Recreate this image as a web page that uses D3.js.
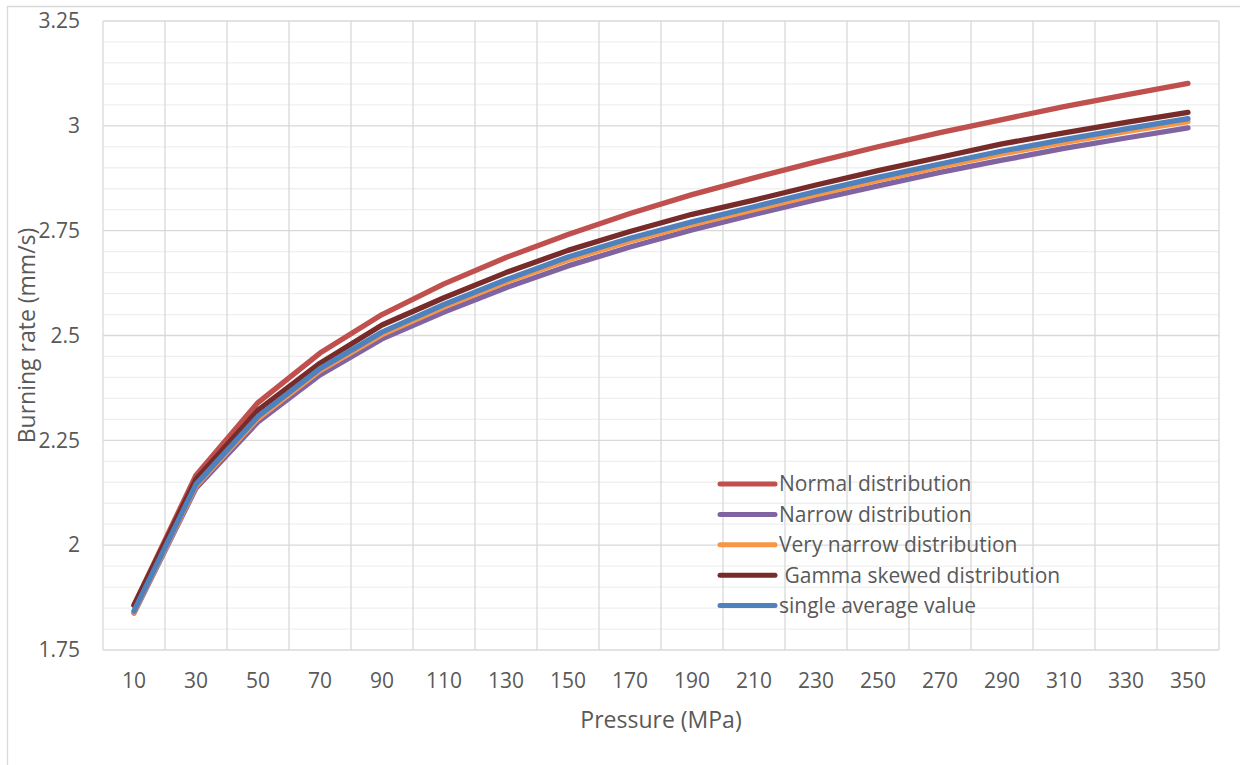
<!DOCTYPE html>
<html>
<head>
<meta charset="utf-8">
<script src="https://cdn.jsdelivr.net/npm/d3@7"></script>
<style>
  html, body { margin: 0; padding: 0; background: #fff; }
  svg { display: block; }
  text { font-family: "Open Sans", "DejaVu Sans", sans-serif; fill: #595959; }
</style>
</head>
<body>
<svg id="chart" width="1240" height="765"></svg>
<script>
// Pressure categories (MPa)
const pressures = [10, 30, 50, 70, 90, 110, 130, 150, 170, 190, 210, 230, 250, 270, 290, 310, 330, 350];

// Burning rate (mm/s) for each particle-size distribution
const normalDist     = [1.857, 2.167, 2.340, 2.458, 2.550, 2.623, 2.686, 2.741, 2.791, 2.836, 2.876, 2.914, 2.950, 2.984, 3.015, 3.046, 3.074, 3.101];
const narrowDist     = [1.838, 2.136, 2.294, 2.406, 2.492, 2.556, 2.614, 2.666, 2.711, 2.752, 2.789, 2.824, 2.857, 2.889, 2.918, 2.946, 2.971, 2.995];
const veryNarrowDist = [1.840, 2.141, 2.302, 2.416, 2.502, 2.568, 2.627, 2.680, 2.725, 2.764, 2.800, 2.836, 2.870, 2.902, 2.933, 2.960, 2.986, 3.010];
const gammaDist      = [1.857, 2.157, 2.322, 2.434, 2.525, 2.590, 2.650, 2.703, 2.748, 2.789, 2.823, 2.859, 2.893, 2.925, 2.957, 2.983, 3.008, 3.032];
const singleAverage  = [1.843, 2.145, 2.307, 2.421, 2.508, 2.574, 2.633, 2.687, 2.732, 2.771, 2.807, 2.843, 2.877, 2.909, 2.940, 2.967, 2.993, 3.017];

const seriesNames  = ["Normal distribution", "Narrow distribution", "Very narrow distribution", " Gamma skewed distribution", "single average value"];
const seriesValues = [normalDist, narrowDist, veryNarrowDist, gammaDist, singleAverage];
const seriesColors = ["#C0504D", "#8064A2", "#F79646", "#772C2A", "#4F81BD"];

const yTicks = [1.75, 2, 2.25, 2.5, 2.75, 3, 3.25];
const xTitle = "Pressure (MPa)";
const yTitle = "Burning rate (mm/s)";

const svg = d3.select("#chart");
const plot = { left: 103, right: 1219, top: 21, bottom: 650 };
const tickFont = 21, titleFont = 23;

const x = d3.scaleBand().domain(pressures).range([plot.left, plot.right]).padding(0);
const y = d3.scaleLinear().domain([1.75, 3.25]).range([plot.bottom, plot.top]);

// chart area frame
svg.append("path")
  .attr("d", `M7.5,765 V6.5 H1240`)
  .attr("fill", "none").attr("stroke", "#D9D9D9").attr("stroke-width", 1.3);

// minor horizontal gridlines
const minor = d3.range(0, 31).map(i => 1.75 + i * 0.05).filter(v => !yTicks.some(t => Math.abs(t - v) < 1e-6));
svg.append("g").selectAll("line").data(minor).join("line")
  .attr("x1", plot.left).attr("x2", plot.right)
  .attr("y1", d => y(d)).attr("y2", d => y(d))
  .attr("stroke", "#EFEFEF").attr("stroke-width", 1.3);

// vertical gridlines on category boundaries
const bounds = pressures.map(p => x(p)).concat([plot.right]);
svg.append("g").selectAll("line").data(bounds).join("line")
  .attr("x1", d => d).attr("x2", d => d)
  .attr("y1", plot.top).attr("y2", plot.bottom)
  .attr("stroke", "#D9D9D9").attr("stroke-width", 1.3);

// major horizontal gridlines
svg.append("g").selectAll("line").data(yTicks).join("line")
  .attr("x1", plot.left).attr("x2", plot.right)
  .attr("y1", d => y(d)).attr("y2", d => y(d))
  .attr("stroke", "#D9D9D9").attr("stroke-width", 1.3);

// y axis tick labels
const yAxis = svg.append("g").attr("transform", `translate(${plot.left},0)`)
  .call(d3.axisLeft(y).tickValues(yTicks).tickSize(0).tickPadding(23).tickFormat(d3.format("~g")));
yAxis.select(".domain").remove();
yAxis.selectAll("text").attr("font-size", tickFont).attr("fill", "#595959")
  .style("font-family", '"Open Sans", sans-serif');

// x axis tick labels
const xAxis = svg.append("g").attr("transform", `translate(0,${plot.bottom})`)
  .call(d3.axisBottom(x).tickSize(0).tickPadding(23));
xAxis.select(".domain").remove();
xAxis.selectAll("text").attr("font-size", tickFont).attr("fill", "#595959")
  .style("font-family", '"Open Sans", sans-serif');

// axis titles
svg.append("text").attr("x", (plot.left + plot.right) / 2).attr("y", 728)
  .attr("text-anchor", "middle").attr("font-size", titleFont).text(xTitle);
svg.append("text")
  .attr("transform", `translate(35,${(plot.top + plot.bottom) / 2}) rotate(-90)`)
  .attr("text-anchor", "middle").attr("font-size", titleFont).text(yTitle);

// series lines
const line = d3.line().x((d, i) => x(pressures[i]) + x.bandwidth() / 2).y(d => y(d));
svg.append("g").selectAll("path").data(seriesValues).join("path")
  .attr("d", d => line(d))
  .attr("fill", "none")
  .attr("stroke", (d, i) => seriesColors[i])
  .attr("stroke-width", 5.3)
  .attr("stroke-linecap", "round")
  .attr("stroke-linejoin", "round");

// legend
const legend = svg.append("g").attr("transform", "translate(720,484)");
const rows = legend.selectAll("g").data(seriesNames).join("g")
  .attr("transform", (d, i) => `translate(0,${i * 30.4})`);
rows.append("line").attr("x1", 0).attr("x2", 55).attr("y1", 0).attr("y2", 0)
  .attr("stroke", (d, i) => seriesColors[i]).attr("stroke-width", 5).attr("stroke-linecap", "round");
rows.append("text").attr("x", 59).attr("y", 0).attr("dy", "0.35em")
  .attr("font-size", tickFont).style("white-space", "pre").text(d => d);
</script>
</body>
</html>
